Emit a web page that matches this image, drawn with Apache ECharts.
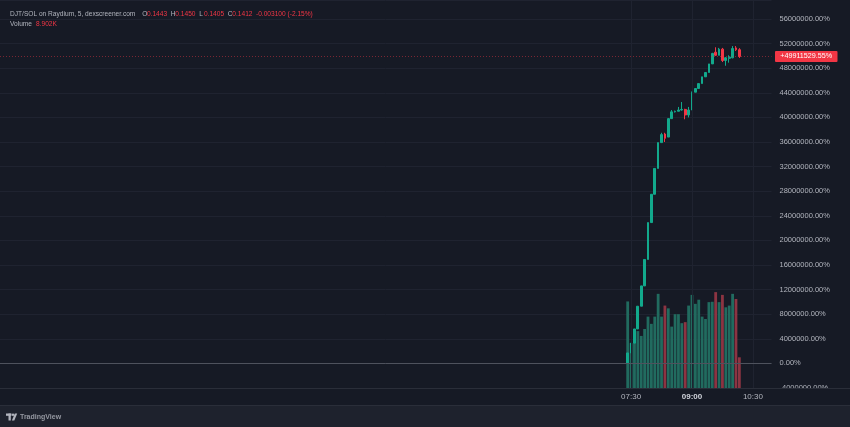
<!DOCTYPE html>
<html><head><meta charset="utf-8">
<script src="https://cdn.jsdelivr.net/npm/echarts@6/dist/echarts.min.js"></script>
<style>html,body{margin:0;padding:0;background:#161a25;}#c{width:850px;height:427px;}</style>
</head><body><div id="c"></div>
<script>
// ---- data ----
const candleTimes = ['07:25','07:30','07:35','07:40','07:45','07:50','07:55','08:00','08:05','08:10','08:15','08:20','08:25','08:30','08:35','08:40','08:45','08:50','08:55','09:00','09:05','09:10','09:15','09:20','09:25','09:30','09:35','09:40','09:45','09:50','09:55','10:00','10:05','10:10'];
const openV  = [20000,1700000,3300000,5600000,9300000,12600000,16900000,22900000,27500000,31700000,35900000,37300000,36800000,39800000,40900000,41000000,41200000,41300000,40400000,41200000,44100000,44700000,45500000,46600000,47300000,48700000,50600000,50100000,51100000,49250000,49600000,49700000,51300000,51007300];
const closeV = [1700000,3300000,5600000,9300000,12600000,16900000,22900000,27500000,31700000,35900000,37200000,36600000,39800000,40900000,41000000,41200000,41300000,40400000,41200000,44100000,44700000,45500000,46600000,47300000,48700000,50400000,50100000,51100000,49250000,49700000,49800000,51200000,51000000,49911529.55];
const highV  = [1700000,3300000,5600000,9300000,12600000,16900000,22900000,27500000,31700000,35900000,37500000,37500000,39900000,41200000,41100000,41700000,42500000,41400000,41700000,44200000,44700000,45500000,46600000,47300000,48700000,50500000,51400000,51300000,51300000,49800000,50100000,51600000,51600000,51254700];
const lowV   = [0,1700000,3300000,5600000,9300000,12600000,16900000,22900000,27500000,31700000,35900000,36000000,36800000,39800000,40800000,41000000,41100000,39700000,40000000,41200000,44100000,44700000,45500000,46600000,47300000,48700000,50000000,50100000,49000000,48400000,48900000,49600000,50800000,49664100];
const volumeV = [25100,13000,13300,16500,15100,17100,20700,18600,20700,27300,20700,23900,23100,17800,21400,21400,18800,19100,23900,27000,24400,25600,20700,20000,24900,25000,27800,24900,27000,23400,23900,27300,25800,8902];
const timeLabels = ['07:30','09:00','10:30'];
const boldTimeLabels = ['09:00'];
const headerTitle = 'DJT/SOL on Raydium, 5, dexscreener.com';
const headerKeys = ['O','H','L','C'];
const headerVals = ['0.1443','0.1450','0.1405','0.1412'];
const headerChange = '-0.003100 (-2.15%)';
const volumeLabel = 'Volume';
const volumeText = '8.902K';

// ---- axis categories (5-minute slots) ----
const pad = n => (n < 10 ? '0' : '') + n;
const categories = [];
for (let k = 0; k < 228; k++) {
  const m = (960 + 5 * k) % 1440;
  categories.push(pad(Math.floor(m / 60)) + ':' + pad(m % 60));
}

const UP = '#12a98c', DOWN = '#f23645';
const VUP = '#216b5f', VDOWN = '#8c3442';
const BG = '#161a25';
const GRID = '#1f2330';
const TXT = '#b2b5be';
const FONT = 'Liberation Sans';

const candleData = candleTimes.map((t, i) => [categories.indexOf(t), openV[i], closeV[i], lowV[i], highV[i]]);
const volData = candleTimes.map((t, i) => ({
  value: [categories.indexOf(t), volumeV[i]],
  itemStyle: { color: closeV[i] >= openV[i] ? VUP : VDOWN }
}));
const lastClose = closeV[closeV.length - 1];
const labelInterval = (idx, val) => timeLabels.indexOf(val) >= 0;

const chart = echarts.init(document.getElementById('c'), null, { renderer: 'canvas' });
chart.setOption({
  backgroundColor: BG,
  animation: false,
  grid: { left: 0, right: 78.5, top: 0, bottom: 39, containLabel: false },
  xAxis: {
    type: 'category', data: categories, boundaryGap: true,
    axisLine: { show: false }, axisTick: { show: false },
    axisLabel: {
      interval: labelInterval, color: TXT, fontSize: 8, fontFamily: FONT, margin: 5,
      formatter: v => boldTimeLabels.indexOf(v) >= 0 ? '{b|' + v + '}' : v,
      rich: { b: { fontWeight: 'bold', color: '#d1d4dc', fontSize: 8, fontFamily: FONT } }
    },
    splitLine: { show: false }
  },
  yAxis: [{
    type: 'value', position: 'right', min: -4000000, max: 59090000, interval: 4000000,
    axisLine: { show: false }, axisTick: { show: false },
    axisLabel: { color: TXT, fontSize: 7.5, fontFamily: FONT, margin: 8, showMaxLabel: false,
      formatter: v => v.toFixed(2) + '%' },
    splitLine: { lineStyle: { color: GRID, width: 1 } }
  }, {
    type: 'value', min: 0, max: 112500, show: false, splitLine: { show: false }
  }],
  series: [{
    type: 'bar', yAxisIndex: 1, data: volData, barWidth: 2.8, z: 1, silent: true,
    markLine: {
      symbol: 'none', silent: true, label: { show: false }, animation: false,
      lineStyle: { color: GRID, type: 'solid', width: 1 },
      data: timeLabels.map(t => ({ xAxis: t }))
    }
  }, {
    type: 'candlestick', yAxisIndex: 0, z: 3, barWidth: 2.2,
    encode: { x: 0, y: [1, 2, 3, 4] },
    data: candleData,
    itemStyle: { color: UP, color0: DOWN, borderColor: UP, borderColor0: DOWN, borderWidth: 1 },
    markLine: {
      symbol: 'none', silent: true, label: { show: false }, animation: false,
      data: [
        { yAxis: 0, lineStyle: { color: '#4e525d', type: 'solid', width: 1 } },
        { yAxis: lastClose, lineStyle: { color: 'rgba(242,54,69,0.45)', type: [1, 2], width: 1 } }
      ]
    }
  }]
});

const py = chart.convertToPixel({ yAxisIndex: 0 }, lastClose);
const hx = [142.3, 170.7, 199.3, 227.7];
const HF = '6.6px ' + FONT;
const g = [];
// bottom area
g.push({ type: 'rect', shape: { x: 772, y: 389, width: 78, height: 17 }, style: { fill: BG }, z: 100 });
g.push({ type: 'line', shape: { x1: 0, y1: 388.5, x2: 850, y2: 388.5 }, style: { stroke: '#2a2e39', lineWidth: 1 }, z: 101 });
g.push({ type: 'rect', shape: { x: 0, y: 406, width: 850, height: 21 }, style: { fill: '#1e222d' }, z: 100 });
g.push({ type: 'line', shape: { x1: 0, y1: 405.5, x2: 850, y2: 405.5 }, style: { stroke: '#2a2e39', lineWidth: 1 }, z: 101 });
// logo
g.push({ type: 'rect', shape: { x: 6, y: 413.5, width: 5.5, height: 2.3 }, style: { fill: TXT }, z: 102 });
g.push({ type: 'rect', shape: { x: 8.5, y: 413.5, width: 2.3, height: 7 }, style: { fill: TXT }, z: 102 });
g.push({ type: 'circle', shape: { cx: 13, cy: 414.7, r: 1.2 }, style: { fill: TXT }, z: 102 });
g.push({ type: 'polygon', shape: { points: [[14.8, 413.5], [17.2, 413.5], [14.3, 420.5], [11.9, 420.5]] }, style: { fill: TXT }, z: 102 });
g.push({ type: 'text', x: 20, y: 417, style: { text: 'TradingView', fill: '#9598a1', font: 'bold 7px ' + FONT, textVerticalAlign: 'middle' }, z: 102 });
// header
g.push({ type: 'text', x: 10, y: 14, style: { text: headerTitle, fill: TXT, font: HF, textVerticalAlign: 'middle' }, z: 102 });
headerKeys.forEach((k, i) => {
  g.push({ type: 'text', x: hx[i], y: 14, style: { text: k, fill: TXT, font: HF, textVerticalAlign: 'middle' }, z: 102 });
  g.push({ type: 'text', x: hx[i] + 4.6, y: 14, style: { text: headerVals[i], fill: DOWN, font: HF, textVerticalAlign: 'middle' }, z: 102 });
});
g.push({ type: 'text', x: 256, y: 14, style: { text: headerChange, fill: DOWN, font: HF, textVerticalAlign: 'middle' }, z: 102 });
g.push({ type: 'text', x: 10, y: 24, style: { text: volumeLabel, fill: TXT, font: HF, textVerticalAlign: 'middle' }, z: 102 });
g.push({ type: 'text', x: 36, y: 24, style: { text: volumeText, fill: DOWN, font: HF, textVerticalAlign: 'middle' }, z: 102 });
// last price label
g.push({ type: 'rect', shape: { x: 775, y: py - 5.5, width: 62.5, height: 11, r: 1 }, style: { fill: DOWN }, z: 102 });
g.push({ type: 'text', x: 806.2, y: py, style: { text: '+' + lastClose.toFixed(2) + '%', fill: '#ffffff', font: '7.2px ' + FONT, textAlign: 'center', textVerticalAlign: 'middle' }, z: 103 });
chart.setOption({ graphic: { elements: g } });
</script>
</body></html>
